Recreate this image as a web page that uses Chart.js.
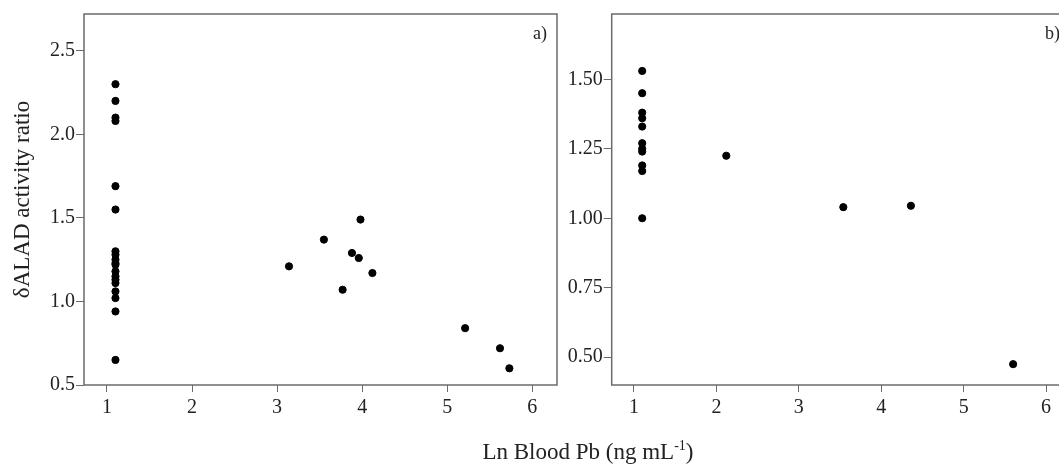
<!DOCTYPE html>
<html>
<head>
<meta charset="utf-8">
<script src="https://cdn.jsdelivr.net/npm/chart.js@4.4.1/dist/chart.umd.min.js"></script>
<style>
html, body { margin: 0; padding: 0; background: #fff; overflow: hidden; }
#wrap { position: relative; width: 1059px; height: 470px; overflow: hidden; }
#boxA { position: absolute; left: 0; top: 0; width: 570px; height: 470px; }
#boxB { position: absolute; left: 565px; top: 0; width: 520px; height: 470px; }
#xtitle { position: absolute; left: 0; width: 1176px; top: 438px; text-align: center;
  font-family: "Liberation Serif", serif; font-size: 23px; color: #222; }
#xtitle sup { font-size: 14px; }
</style>
</head>
<body>
<div id="wrap">
  <div id="boxA"><canvas id="chartA"></canvas></div>
  <div id="boxB"><canvas id="chartB"></canvas></div>
  <div id="xtitle">Ln Blood Pb (ng mL<sup>-1</sup>)</div>
</div>
<script>
// panel a) data
var aX = [1.1, 1.1, 1.1, 1.1, 1.1, 1.1, 1.1, 1.1, 1.1, 1.1, 1.1, 1.1, 1.1, 1.1, 1.1, 1.1, 1.1, 1.1, 1.1,
          3.14, 3.55, 3.77, 3.88, 3.96, 3.98, 4.12, 5.21, 5.62, 5.73];
var aY = [2.30, 2.20, 2.10, 2.08, 1.69, 1.55, 1.30, 1.28, 1.25, 1.23, 1.22, 1.18, 1.15, 1.13, 1.11, 1.06, 1.02, 0.94, 0.65,
          1.21, 1.37, 1.07, 1.29, 1.26, 1.49, 1.17, 0.84, 0.72, 0.60];

// panel b) data
var bX = [1.1, 1.1, 1.1, 1.1, 1.1, 1.1, 1.1, 1.1, 1.1, 1.1, 1.1, 2.12, 3.54, 4.36, 5.60];
var bY = [1.53, 1.45, 1.38, 1.36, 1.33, 1.27, 1.25, 1.24, 1.19, 1.17, 1.00, 1.225, 1.04, 1.045, 0.475];

var xTicks = [1, 2, 3, 4, 5, 6];
var yTicksA = [0.5, 1.0, 1.5, 2.0, 2.5];
var yTicksB = [0.50, 0.75, 1.00, 1.25, 1.50];

var axisGray = '#6b6b6b';
var textCol = '#222';
var serif = '"Liberation Serif", "Times New Roman", serif';

// draws box round plot area plus the a)/b) tag
const frameTag = {
    id: 'frameTag',
    afterDraw(chart, args, opts) {
        const ca = chart.chartArea;
        const c = chart.ctx;
        c.save();
        c.strokeStyle = axisGray;
        c.lineWidth = 1.5;
        c.strokeRect(ca.left, ca.top, ca.right - ca.left, ca.bottom - ca.top);
        c.fillStyle = textCol;
        c.font = '18px ' + serif;
        c.textAlign = 'right';
        c.textBaseline = 'middle';
        c.fillText(opts.text, ca.right - 10, ca.top + 20);
        c.restore();
    }
};

function pts(xs, ys) {
    return xs.map(function (x, i) { return { x: x, y: ys[i] }; });
}

function makeChart(id, xs, ys, yTicks, yMin, yMax, digits, yWidth, padRight, tag, yTitle) {
    var ctx = document.getElementById(id).getContext('2d');
    return new Chart(ctx, {
        type: 'scatter',
        data: {
            datasets: [{
                data: pts(xs, ys),
                backgroundColor: '#000',
                borderColor: '#000',
                pointRadius: 3.6,
                pointHoverRadius: 3.6
            }]
        },
        options: {
            responsive: true,
            maintainAspectRatio: false,
            animation: false,
            layout: { padding: { top: 14, right: padRight, left: 0, bottom: 0 } },
            plugins: {
                legend: { display: false },
                tooltip: { enabled: false },
                frameTag: { text: tag }
            },
            scales: {
                x: {
                    type: 'linear',
                    min: 0.73,
                    max: 6.29,
                    afterBuildTicks: function (s) { s.ticks = xTicks.map(function (v) { return { value: v }; }); },
                    afterFit: function (s) { s.height = 85; },
                    border: { display: false },
                    grid: { drawOnChartArea: false, drawTicks: true, tickLength: 7, color: axisGray, lineWidth: 1 },
                    ticks: { color: textCol, font: { family: serif, size: 20 }, padding: 4, maxRotation: 0 }
                },
                y: {
                    type: 'linear',
                    min: yMin,
                    max: yMax,
                    afterBuildTicks: function (s) { s.ticks = yTicks.map(function (v) { return { value: v }; }); },
                    afterFit: function (s) { s.width = yWidth; },
                    border: { display: false },
                    grid: { drawOnChartArea: false, drawTicks: true, tickLength: 8, color: axisGray, lineWidth: 1 },
                    ticks: {
                        color: textCol, font: { family: serif, size: 20 }, padding: 1,
                        callback: function (v) { return Number(v).toFixed(digits); }
                    },
                    title: {
                        display: !!yTitle,
                        text: yTitle,
                        color: textCol,
                        font: { family: serif, size: 23 },
                        padding: { top: 9, bottom: 0 }
                    }
                }
            }
        },
        plugins: [frameTag]
    });
}

makeChart('chartA', aX, aY, yTicksA, 0.5, 2.72, 1, 84, 13, 'a)', 'δALAD activity ratio');
makeChart('chartB', bX, bY, yTicksB, 0.40, 1.735, 2, 46.7, 15, 'b)', '');
</script>
</body>
</html>
